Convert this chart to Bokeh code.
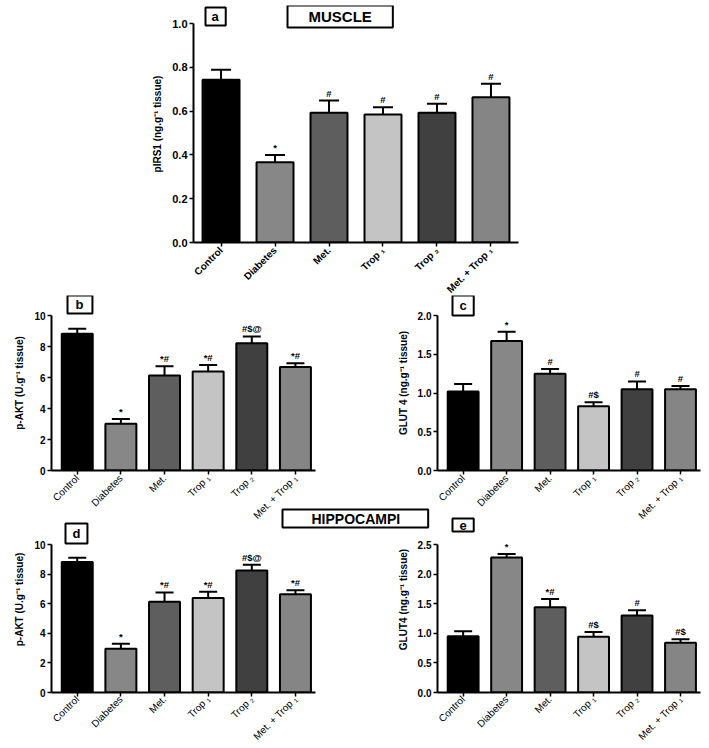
import math
from bokeh.plotting import figure
from bokeh.models import (Range1d, FixedTicker, Label, Whisker, ColumnDataSource,
                          TeeHead, NumeralTickFormatter)
from bokeh.layouts import column, row
from bokeh.embed import file_html
from bokeh.resources import INLINE
from bokeh.core.properties import value

FONT = "Liberation Sans"

# ---------------- data ----------------
groups = ["Control", "Diabetes", "Met.", "Trop \u2081", "Trop \u2082", "Met. + Trop \u2081"]
bar_colors = ["#000000", "#878787", "#5e5e5e", "#c4c4c4", "#404040", "#858585"]

# (a) muscle pIRS1
irs1_mean = [0.743, 0.367, 0.592, 0.584, 0.592, 0.663]
irs1_upper = [0.789, 0.400, 0.648, 0.618, 0.633, 0.725]
irs1_sig = ["", "*", "#", "#", "#", "#"]
irs1_ticks = [0.0, 0.2, 0.4, 0.6, 0.8, 1.0]

# (b) muscle p-AKT
akt_muscle_mean = [8.82, 3.01, 6.13, 6.39, 8.21, 6.67]
akt_muscle_upper = [9.14, 3.33, 6.73, 6.81, 8.65, 6.92]
akt_muscle_sig = ["", "*", "*#", "*#", "#$@", "*#"]
akt_ticks = [0, 2, 4, 6, 8, 10]

# (c) muscle GLUT 4
glut4_muscle_mean = [1.02, 1.67, 1.25, 0.83, 1.05, 1.05]
glut4_muscle_upper = [1.115, 1.79, 1.31, 0.88, 1.15, 1.09]
glut4_muscle_sig = ["", "*", "#", "#$", "#", "#"]
glut4_muscle_ticks = [0.0, 0.5, 1.0, 1.5, 2.0]

# (d) hippocampi p-AKT
akt_hippo_mean = [8.81, 2.96, 6.13, 6.38, 8.25, 6.64]
akt_hippo_upper = [9.11, 3.29, 6.76, 6.80, 8.64, 6.91]
akt_hippo_sig = ["", "*", "*#", "*#", "#$@", "*#"]

# (e) hippocampi GLUT4
glut4_hippo_mean = [0.95, 2.28, 1.44, 0.94, 1.30, 0.84]
glut4_hippo_upper = [1.035, 2.34, 1.58, 1.02, 1.39, 0.90]
glut4_hippo_sig = ["", "*", "*#", "#$", "#", "#$"]
glut4_hippo_ticks = [0.0, 0.5, 1.0, 1.5, 2.0, 2.5]


def panel(mean, upper, sig, ticks, fmt, ylabel, geom, axis_px, xr, xbounds,
          bar_w, cap, bold_x, ytick_fs, xlab_fs, title_fs, xlab_standoff=2, margin=None):
    W, H, L, R, T, B = geom
    frame_h = H - T - B
    y_end = ticks[-1] * frame_h / axis_px   # room above the axis for the panel tags
    kw = {}
    if margin is not None:
        kw["margin"] = margin
    p = figure(width=W, height=H, x_range=Range1d(*xr), y_range=Range1d(0, y_end),
               output_backend="svg", toolbar_location=None,
               min_border_left=L, min_border_right=R, min_border_top=T, min_border_bottom=B,
               **kw)
    p.outline_line_color = None
    p.grid.visible = False
    p.border_fill_alpha = 0
    p.background_fill_alpha = 0

    idx = list(range(len(groups)))
    src = ColumnDataSource(dict(x=idx, mean=mean, upper=upper, sig=sig, color=bar_colors))
    p.vbar(x="x", top="mean", bottom=0, width=bar_w, source=src, fill_color="color",
           line_color="black", line_width=2)
    p.add_layout(Whisker(base="x", lower="mean", upper="upper", source=src,
                         line_color="black", line_width=2, lower_head=None,
                         upper_head=TeeHead(size=cap, line_width=2, line_color="black")))
    p.text(x="x", y="upper", text="sig", source=src, text_align="center",
           text_baseline="bottom", y_offset=-2, text_font=value(FONT),
           text_font_style="bold", text_font_size="9.5px", text_color="black")

    xa = p.xaxis[0]
    xa.bounds = xbounds
    xa.ticker = FixedTicker(ticks=idx)
    xa.major_label_overrides = {i: g for i, g in enumerate(groups)}
    xa.major_label_orientation = math.pi / 4
    xa.minor_tick_line_color = None
    xa.axis_line_width = 2
    xa.major_tick_line_width = 1.5
    xa.major_tick_out = 4
    xa.major_tick_in = 0
    xa.major_label_standoff = xlab_standoff
    xa.major_label_text_font = FONT
    xa.major_label_text_font_size = xlab_fs
    xa.major_label_text_font_style = "bold" if bold_x else "normal"
    xa.major_label_text_color = "black"

    ya = p.yaxis[0]
    ya.bounds = (0, ticks[-1])
    ya.ticker = FixedTicker(ticks=ticks)
    ya.formatter = NumeralTickFormatter(format=fmt)
    ya.minor_tick_line_color = None
    ya.axis_line_width = 2
    ya.major_tick_line_width = 1.5
    ya.major_tick_out = 4
    ya.major_tick_in = 0
    ya.major_label_standoff = 2
    ya.major_label_text_font = FONT
    ya.major_label_text_font_size = ytick_fs
    ya.major_label_text_font_style = "bold"
    ya.major_label_text_color = "black"
    ya.axis_label = ylabel
    ya.axis_label_text_font = FONT
    ya.axis_label_text_font_size = title_fs
    ya.axis_label_text_font_style = "bold"
    ya.axis_label_text_color = "black"
    ya.axis_label_standoff = 6
    return p


def box(p, text, left, top, fl, fb, fs, pad):
    # left/top of the tag box in page pixels; fl/fb = frame left/bottom in page pixels
    # pad = (left, right, top, bottom)
    p.add_layout(Label(x=left - fl, y=fb - top, x_units="screen", y_units="screen",
                       text=text, text_font=FONT, text_font_style="bold",
                       text_font_size=fs, text_color="black",
                       text_align="left", text_baseline="top",
                       border_line_color="black", border_line_width=2,
                       background_fill_color="white", padding=pad))


xr_small = (-0.59, 5.46)

# figure a: x 0..709, frame 193..518, axis 23..242 (frame top at 5 for the tags)
pa = panel(irs1_mean, irs1_upper, irs1_sig, irs1_ticks, "0.0",
           "pIRS1 (ng.g\u207b\u00b9 tissue)", (709, 302, 193, 191, 5, 60), 219,
           (-0.51, 5.51), (-0.51, 5.51), 0.685, 20, True, "11px", "10px", "10px")
box(pa, "a", 205, 7, 193, 242, "13px", (6, 7, 1, 2))
box(pa, "MUSCLE", 287, 5, 193, 242, "15px", (21, 21, 2, 3))

# row 2: starts at 295, axis 315..470
pb = panel(akt_muscle_mean, akt_muscle_upper, akt_muscle_sig, akt_ticks, "0",
           "p-AKT (U.g\u207b\u00b9 tissue)", (352, 235, 51, 37, 0, 60), 155,
           xr_small, xr_small, 0.71, 18, False, "10px", "10px", "10px", xlab_standoff=2)
box(pb, "b", 67, 295, 51, 470, "13px", (8, 9, 1, 2))

pc = panel(glut4_muscle_mean, glut4_muscle_upper, glut4_muscle_sig, glut4_muscle_ticks, "0.0",
           "GLUT 4 (ng.g\u207b\u00b9 tissue)", (357, 235, 85, 9, 0, 60), 155,
           xr_small, xr_small, 0.71, 18, False, "10px", "10px", "10px", xlab_standoff=2)
box(pc, "c", 452, 295, 437, 470, "13px", (7, 7, 2, 3))

# row 3: starts at 506, axis 544..692
pd = panel(akt_hippo_mean, akt_hippo_upper, akt_hippo_sig, akt_ticks, "0",
           "p-AKT (U.g\u207b\u00b9 tissue)", (430, 242, 51, 0, 0, 56), 148,
           (-0.59, -0.59 + 379 / 43.64), xr_small, 0.71, 18, False, "10px", "10px", "10px",
           xlab_standoff=1)
box(pd, "d", 65, 523, 51, 692, "13px", (7, 7, 2, 3))
box(pd, "HIPPOCAMPI", 282, 509, 51, 692, "14px", (29, 28, 1, 1))

pe = panel(glut4_hippo_mean, glut4_hippo_upper, glut4_hippo_sig, glut4_hippo_ticks, "0.0",
           "GLUT4 (ng.g\u207b\u00b9 tissue)", (357, 242, 85, 9, 0, 56), 148,
           xr_small, xr_small, 0.71, 18, False, "10px", "10px", "10px", xlab_standoff=1,
           margin=(0, 0, 0, -78))
box(pe, "e", 452, 518, 437, 692, "13px", (7, 7, 2, 2))

layout = column(pa,
                row(pb, pc, margin=(-7, 0, 0, 0)),
                row(pd, pe, margin=(-24, 0, 0, 0)))

open("out.html", "w").write(file_html(layout, INLINE))
